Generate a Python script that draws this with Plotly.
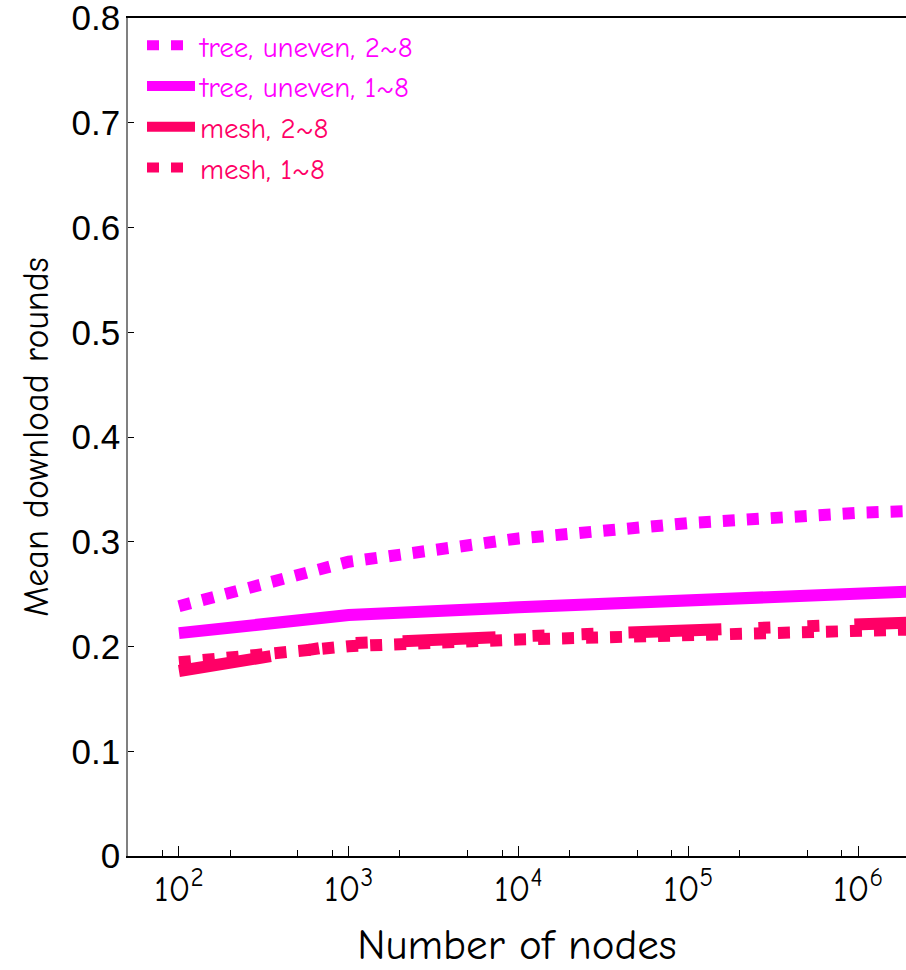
import plotly.graph_objects as go

# ---- data ----
nodes = [100, 1000, 10000, 100000, 1000000, 2000000]
tree_uneven_2_8 = [0.2385, 0.2810, 0.3032, 0.3178, 0.3277, 0.3293]
tree_uneven_1_8 = [0.2128, 0.2300, 0.2375, 0.2435, 0.2503, 0.2525]
mesh_2_8 = [0.1766, 0.2030, 0.2097, 0.2157, 0.2215, 0.2228]
mesh_1_8 = [0.1850, 0.2003, 0.2067, 0.2105, 0.2155, 0.2162]

series_names = ["tree, uneven, 2~8", "tree, uneven, 1~8", "mesh, 2~8", "mesh, 1~8"]

x_tick_vals = [100, 1000, 10000, 100000, 1000000]
x_tick_text = ["10<sup>2</sup>", "10<sup>3</sup>", "10<sup>4</sup>", "10<sup>5</sup>", "10<sup>6</sup>"]
x_minor_vals = [80, 200, 500, 800, 2000, 5000, 8000, 20000, 50000, 80000,
                200000, 500000, 800000, 2000000]
y_tick_vals = [0, 0.1, 0.2, 0.3, 0.4, 0.5, 0.6, 0.7, 0.8]
y_tick_text = ["0", "0.1", "0.2", "0.3", "0.4", "0.5", "0.6", "0.7", "0.8"]

MAGENTA = "#FF00FF"
ROSE = "#FF0066"
COMIC = "Comic Sans MS, Comic Neue, Open Sans, sans-serif"


def colored(text, color):
    return f"<span style='color:{color}'>{text}</span>"


fig = go.Figure()
fig.add_trace(go.Scatter(x=nodes, y=tree_uneven_2_8, mode="lines",
                         name=colored(series_names[0], MAGENTA),
                         line=dict(color=MAGENTA, width=12, dash="12px,12px")))
fig.add_trace(go.Scatter(x=nodes, y=tree_uneven_1_8, mode="lines",
                         name=colored(series_names[1], MAGENTA),
                         line=dict(color=MAGENTA, width=12)))
fig.add_trace(go.Scatter(x=nodes, y=mesh_2_8, mode="lines",
                         name=colored(series_names[2], ROSE),
                         line=dict(color=ROSE, width=12,
                                   dash="93px,37px,12px,37px,12px,35px")))
fig.add_trace(go.Scatter(x=nodes, y=mesh_1_8, mode="lines",
                         name=colored(series_names[3], ROSE),
                         line=dict(color=ROSE, width=12, dash="12px,12px")))

fig.update_layout(
    width=906, height=970,
    margin=dict(l=128, r=0, t=18, b=114, autoexpand=False),
    paper_bgcolor="white", plot_bgcolor="white",
    showlegend=True,
    legend=dict(x=0.018, y=0.9976, xanchor="left", yanchor="top",
                bgcolor="rgba(0,0,0,0)", borderwidth=0,
                font=dict(family=COMIC, size=29, color=MAGENTA),
                itemwidth=48, tracegroupgap=0),
)

fig.update_xaxes(
    type="log", range=[1.7, 6.282], automargin=False,
    showgrid=False, zeroline=False,
    showline=True, linecolor="black", linewidth=1.5, mirror=True,
    ticks="inside", ticklen=10, tickwidth=1.2, tickcolor="black",
    tickvals=x_tick_vals, ticktext=x_tick_text,
    tickfont=dict(family=COMIC, size=36, color="black"),
    ticklabeloverflow="allow",
    minor=dict(tickvals=x_minor_vals, ticks="inside", ticklen=6, tickwidth=1.2,
               tickcolor="black", showgrid=False),
    title=dict(text="Number of nodes", font=dict(family=COMIC, size=43, color="black"),
               standoff=22),
)
fig.update_yaxes(
    range=[0, 0.8001], automargin=False,
    showgrid=False, zeroline=False,
    showline=True, linecolor="#808080", linewidth=1.5,
    ticks="inside", ticklen=6, tickwidth=1.2, tickcolor="black",
    tickvals=y_tick_vals, ticktext=y_tick_text,
    tickfont=dict(family="Liberation Sans, Arial, sans-serif", size=35, color="black"),
    ticklabelstandoff=-1, ticklabeloverflow="allow",
    title=dict(text="Mean download rounds", font=dict(family=COMIC, size=36, color="black"),
               standoff=12),
)

# remove the browser's default 8px body margin so the figure fills the window
fig.write_html("out.html", config={"displayModeBar": False},
               post_script="document.body.style.margin='0';")
